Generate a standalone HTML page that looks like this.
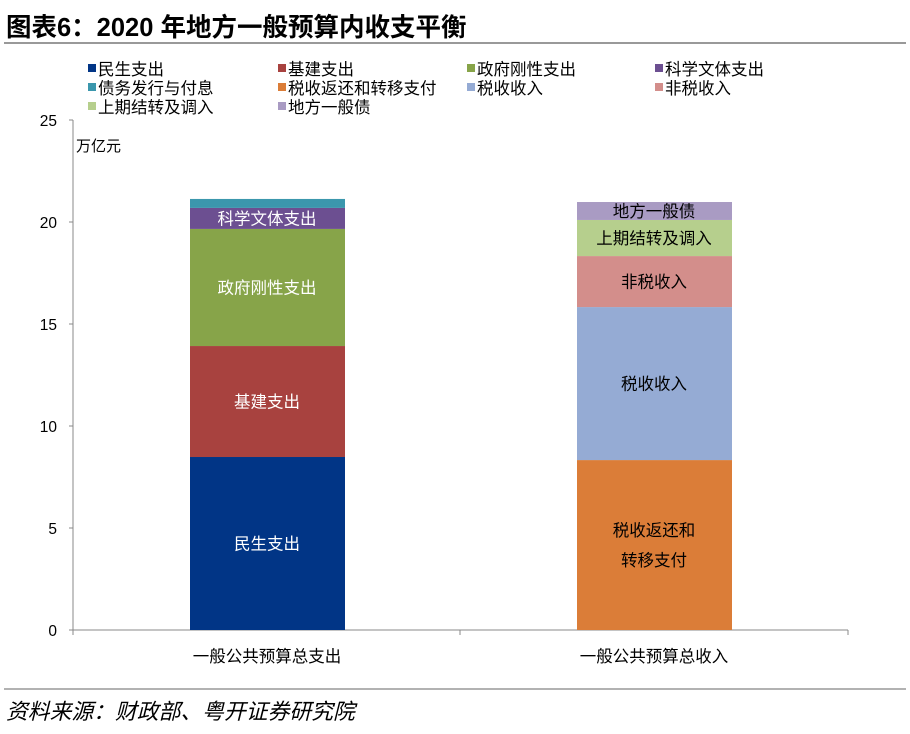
<!DOCTYPE html>
<html><head><meta charset="utf-8"><style>
body{margin:0;background:#fff;}
svg text{font-family:"Liberation Sans","Noto Sans CJK SC",sans-serif;}
</style></head><body>
<svg id="c" width="910" height="729" viewBox="0 0 910 729" xmlns="http://www.w3.org/2000/svg">
<text x="6" y="36" font-size="25.5" font-weight="bold" fill="#000">图表6：2020 年地方一般预算内收支平衡</text>
<line x1="4" y1="43" x2="906" y2="43" stroke="#999" stroke-width="2"/>
<line x1="4" y1="689" x2="906" y2="689" stroke="#999" stroke-width="1.5"/>
<text x="6" y="719" font-size="21.8" font-style="italic" fill="#000">资料来源：财政部、粤开证券研究院</text>
<text x="76" y="151" font-size="15" fill="#000">万亿元</text>
<g id="axes"></g><g id="bars"></g><g id="legend"></g>
</svg>
<script>
const categories = ["一般公共预算总支出", "一般公共预算总收入"];
const seriesNames = ["民生支出","基建支出","政府刚性支出","科学文体支出","债务发行与付息","税收返还和转移支付","税收收入","非税收入","上期结转及调入","地方一般债"];
const seriesColors = ["#013586","#a8423f","#87a449","#6c4f91","#3b97ad","#db7d38","#95abd4","#d38e8b","#b6cf8d","#a99bc3"];
const expenditureValues = [8.48, 5.44, 5.74, 1.03, 0.44];
const revenueValues = [8.33, 7.5, 2.5, 1.77, 0.88];
const segLabels = [["民生支出"],["基建支出"],["政府刚性支出"],["科学文体支出"],[],["税收返还和","转移支付"],["税收收入"],["非税收入"],["上期结转及调入"],["地方一般债"]];
const yTicks = [0,5,10,15,20,25];
const NS="http://www.w3.org/2000/svg";
const y0=630, pxU=20.4, xL=73, xR=848;
const y=v=>y0-v*pxU;
const bx=i=>[190,577][i];
function mk(t,a,p){const e=document.createElementNS(NS,t);for(const k in a)e.setAttribute(k,a[k]);p.appendChild(e);return e;}
const ax=document.getElementById('axes');
let l=mk('line',{x1:xL,y1:y(0),x2:xL,y2:y(25),stroke:'#888'},ax);


l=mk('line',{x1:xL,y1:y(0),x2:xR,y2:y(0),stroke:'#888'},ax);


yTicks.forEach(t=>{mk('line',{x1:xL-4,y1:y(t),x2:xL,y2:y(t),stroke:'#888'},ax);
const e=mk('text',{x:57,y:y(t)+6,'font-size':15.5,'text-anchor':'end'},ax);e.textContent=t;

});
[xL,460,xR].forEach(x=>mk('line',{x1:x,y1:y0,x2:x,y2:y0+5,stroke:'#888'},ax));
categories.forEach((c,i)=>{const e=mk('text',{x:bx(i)+77,y:662,'font-size':16.5,'text-anchor':'middle'},ax);e.textContent=c;

});
const bg=document.getElementById('bars');
[expenditureValues,revenueValues].forEach((vals,bi)=>{let cum=0;vals.forEach((v,j)=>{const si=bi*5+j;
const r=mk('rect',{x:bx(bi),y:y(cum+v),width:155,height:v*pxU,fill:seriesColors[si]},bg);


const lab=segLabels[si];const mid=y(cum+v/2);
lab.forEach((s,k)=>{const t=mk('text',{x:bx(bi)+77,y:mid+6+(k-(lab.length-1)/2)*30,'font-size':16.5,'text-anchor':'middle',fill:(si<=3)?'#fff':'#000'},bg);t.textContent=s;

});
cum+=v;});});
const lg=document.getElementById('legend');
const lx=[88,278,467,655], ly=[69,88,107];
seriesNames.forEach((n,i)=>{const x=lx[i%4],yy=ly[Math.floor(i/4)];
const g=mk('g',{},lg);


mk('rect',{x:x,y:yy-5,width:8,height:8,fill:seriesColors[i]},g);
const t=mk('text',{x:x+10,y:yy+6,'font-size':16.5},g);t.textContent=n;});
</script>
</body></html>
